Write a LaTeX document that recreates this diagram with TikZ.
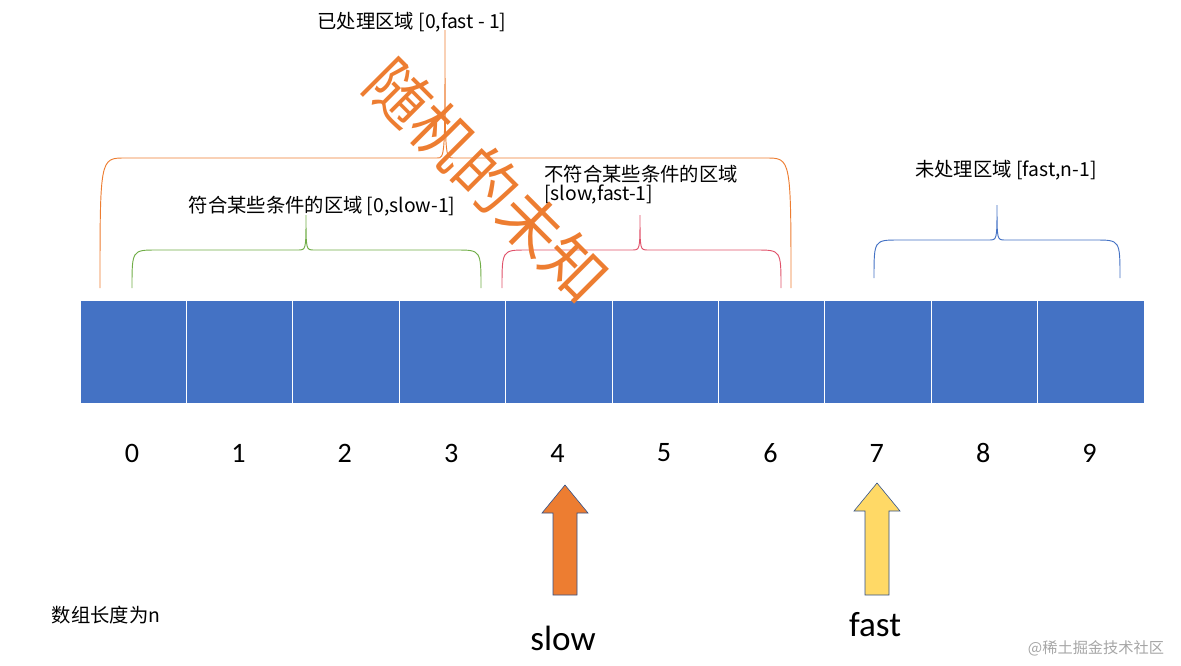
\documentclass[tikz,border=0pt]{standalone}
\usepackage{fontspec}
\setmainfont{Carlito}
\newfontfamily\cjk{Noto Sans CJK SC}
\begin{document}
\begin{tikzpicture}[x=0.03cm,y=-0.03cm,
  cell/.style={draw=white,line width=0.6pt,fill=cellblue,minimum width=106.4*0.03cm,minimum height=103*0.03cm,inner sep=0,outer sep=0},
  lbl/.style={font=\cjk\fontsize{16.5}{19}\selectfont,inner sep=1pt,align=left},
  num/.style={font=\fontsize{24}{28}\selectfont}]
\definecolor{cellblue}{HTML}{4472C4}
\definecolor{bor}{HTML}{ED7D31}
\definecolor{bgr}{HTML}{70AD47}
\definecolor{bre}{HTML}{E0526A}
\definecolor{bbl}{HTML}{4472C4}
\definecolor{yel}{HTML}{FFD966}
\useasboundingbox (0,0) rectangle (1181,665);
\foreach \i in {0,...,9}{
  \node[cell] (c\i) at ({80+53.2+106.4*\i},351.5) {};
  \node[num] (n\i) at ({132+106.4*\i},453) {\i};
}
\def\brace#1#2#3#4#5#6#7{\draw[#1,line width=0.8pt] (#2,#5) .. controls (#2,#6) .. (#2+25,#6) -- (#4-8,#6) .. controls (#4,#6) .. (#4,#7) .. controls (#4,#6) .. (#4+8,#6) -- (#3-25,#6) .. controls (#3,#6) .. (#3,#5);}
\brace{bor}{100}{791}{445}{288}{158}{30}
\brace{bgr}{132}{481}{306}{288}{250}{215}
\brace{bre}{502}{781}{640}{288}{250}{215}
\brace{bbl}{874}{1120}{997}{278}{240}{205}
\node[lbl] (t1) at (412,22) {已处理区域 [0,fast - 1]};
\node[lbl] (t2) at (322,206) {符合某些条件的区域 [0,slow-1]};
\node[lbl,anchor=north west] (t3) at (543,164) {不符合某些条件的区域\\[-3pt][slow,fast-1]};
\node[lbl] (t4) at (1006,170) {未处理区域 [fast,n-1]};
\node[lbl] (t5) at (106,615) {数组长度为n};
\node[font=\cjk\fontsize{53}{53}\selectfont,text=bor,rotate=-45] (r) at (487,180) {随机的未知};
\draw[fill=bor,draw=cellblue!70!black,line width=0.5pt] (553,595) -- (553,513) -- (542,513) -- (565,485) -- (588,513) -- (577,513) -- (577,595) -- cycle;
\draw[fill=yel,draw=cellblue!70!black,line width=0.5pt] (865,595) -- (865,511) -- (854,511) -- (877,483) -- (900,511) -- (889,511) -- (889,595) -- cycle;
\node[font=\fontsize{30}{34}\selectfont] (s) at (563,638) {slow};
\node[font=\fontsize{30}{34}\selectfont] (f) at (875,625) {fast};
\node[font=\cjk\fontsize{13}{15}\selectfont,text=gray!70] (w) at (1096,648) {@稀土掘金技术社区};
\end{tikzpicture}
\end{document}
